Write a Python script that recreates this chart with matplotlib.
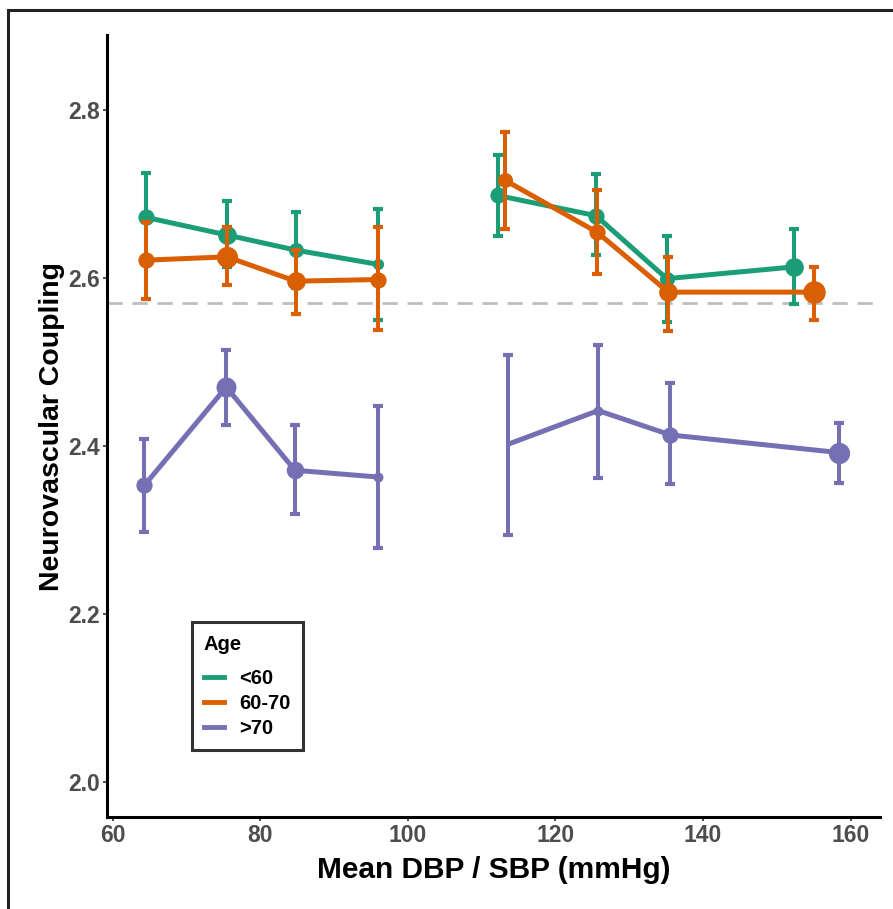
import matplotlib
matplotlib.use("Agg")
import matplotlib.pyplot as plt
from matplotlib.lines import Line2D

plt.rcParams['font.family'] = ['Liberation Sans', 'DejaVu Sans']
plt.rcParams['font.weight'] = 'bold'

ages = ['<60', '60-70', '>70']
colors = ['#1B9E77', '#D95F02', '#7570B3']

# diastolic block (left) and systolic block (right), one row per age group
dbp_x = [[64.5, 75.5, 84.8, 96.0],
         [64.5, 75.5, 84.8, 96.0],
         [64.3, 75.4, 84.7, 95.9]]
dbp_y = [[2.672, 2.651, 2.633, 2.616],
         [2.621, 2.625, 2.596, 2.598],
         [2.353, 2.470, 2.371, 2.363]]
dbp_lo = [[2.619, 2.613, 2.588, 2.550],
          [2.575, 2.591, 2.557, 2.538],
          [2.298, 2.425, 2.319, 2.279]]
dbp_hi = [[2.725, 2.692, 2.678, 2.682],
          [2.667, 2.660, 2.633, 2.660],
          [2.408, 2.514, 2.425, 2.447]]
dbp_n = [[13, 15, 12, 9],
         [13, 17, 15, 13],
         [13, 16, 14, 8]]

sbp_x = [[112.2, 125.5, 135.1, 152.3],
         [113.2, 125.7, 135.3, 155.0],
         [113.6, 125.8, 135.6, 158.5]]
sbp_y = [[2.698, 2.674, 2.599, 2.613],
         [2.716, 2.654, 2.583, 2.583],
         [2.402, 2.442, 2.413, 2.392]]
sbp_lo = [[2.650, 2.627, 2.548, 2.569],
          [2.658, 2.605, 2.537, 2.550],
          [2.294, 2.362, 2.355, 2.356]]
sbp_hi = [[2.746, 2.724, 2.650, 2.658],
          [2.774, 2.704, 2.625, 2.613],
          [2.508, 2.520, 2.475, 2.427]]
sbp_n = [[13, 13, 12, 15],
         [12, 13, 15, 18],
         [3, 8, 13, 17]]

reference_level = 2.57

fig = plt.figure(figsize=(8.93, 9.09), dpi=100)
ax = fig.add_axes([0.1195, 0.1009, 0.866, 0.8606])

ax.axhline(reference_level, color='#BEBEBE', lw=2, dashes=(5.5, 3.5), zorder=1)

for i, age in enumerate(ages):
    c = colors[i]
    for xs, ys, lo, hi, ns in [(dbp_x[i], dbp_y[i], dbp_lo[i], dbp_hi[i], dbp_n[i]),
                               (sbp_x[i], sbp_y[i], sbp_lo[i], sbp_hi[i], sbp_n[i])]:
        z = 2 + i
        ax.plot(xs, ys, color=c, lw=3.6, solid_capstyle='butt', zorder=z)
        err = [[y - l for y, l in zip(ys, lo)], [h - y for y, h in zip(ys, hi)]]
        ax.errorbar(xs, ys, yerr=err, fmt='none', ecolor=c, elinewidth=2.9,
                    capsize=3.5, capthick=3.0, zorder=z)
        for x, y, n in zip(xs, ys, ns):
            ax.plot(x, y, 'o', color=c, ms=n * 0.9, mew=0, zorder=z)

ax.set_xlim(59.2, 164.0)
ax.set_ylim(1.958, 2.889)
ax.set_xticks([60, 80, 100, 120, 140, 160])
ax.set_yticks([2.0, 2.2, 2.4, 2.6, 2.8])
ax.set_yticklabels(['2.0', '2.2', '2.4', '2.6', '2.8'])

for s in ['top', 'right']:
    ax.spines[s].set_visible(False)
for s in ['left', 'bottom']:
    ax.spines[s].set_linewidth(2.2)
    ax.spines[s].set_color('black')
ax.tick_params(axis='both', length=3, width=1.2, color='#333333',
               labelsize=16.5, labelcolor='#4D4D4D', pad=2)
for lab in ax.get_xticklabels() + ax.get_yticklabels():
    lab.set_fontweight('bold')

ax.set_xlabel('Mean DBP / SBP (mmHg)', fontsize=21.5, fontweight='bold', labelpad=6)
ax.set_ylabel('Neurovascular Coupling', fontsize=20.5, fontweight='bold', labelpad=2)

handles = [Line2D([], [], color=c, lw=3.5) for c in colors]
leg = ax.legend(handles, ages, title='Age', loc='lower left',
                bbox_to_anchor=(0.110, 0.086), borderaxespad=0,
                frameon=True, fancybox=False,
                prop={'size': 14.5, 'weight': 'bold'}, handlelength=1.0,
                handletextpad=0.75, labelspacing=0.3, borderpad=0.6)
leg.get_title().set_fontsize(14.5)
leg.get_title().set_fontweight('bold')
leg._legend_box.align = 'left'
leg._legend_box.sep = 11
leg.get_frame().set_edgecolor('black')
leg.get_frame().set_linewidth(2.2)

# outer frame (left and top edges visible)
fig.add_artist(Line2D([7.5 / 893, 7.5 / 893], [0, 1 - 10 / 909], color='#222222',
                      lw=2.2, transform=fig.transFigure))
fig.add_artist(Line2D([7.5 / 893, 1], [1 - 10 / 909, 1 - 10 / 909], color='#222222',
                      lw=2.2, transform=fig.transFigure))

fig.savefig('out.png', dpi=100)
